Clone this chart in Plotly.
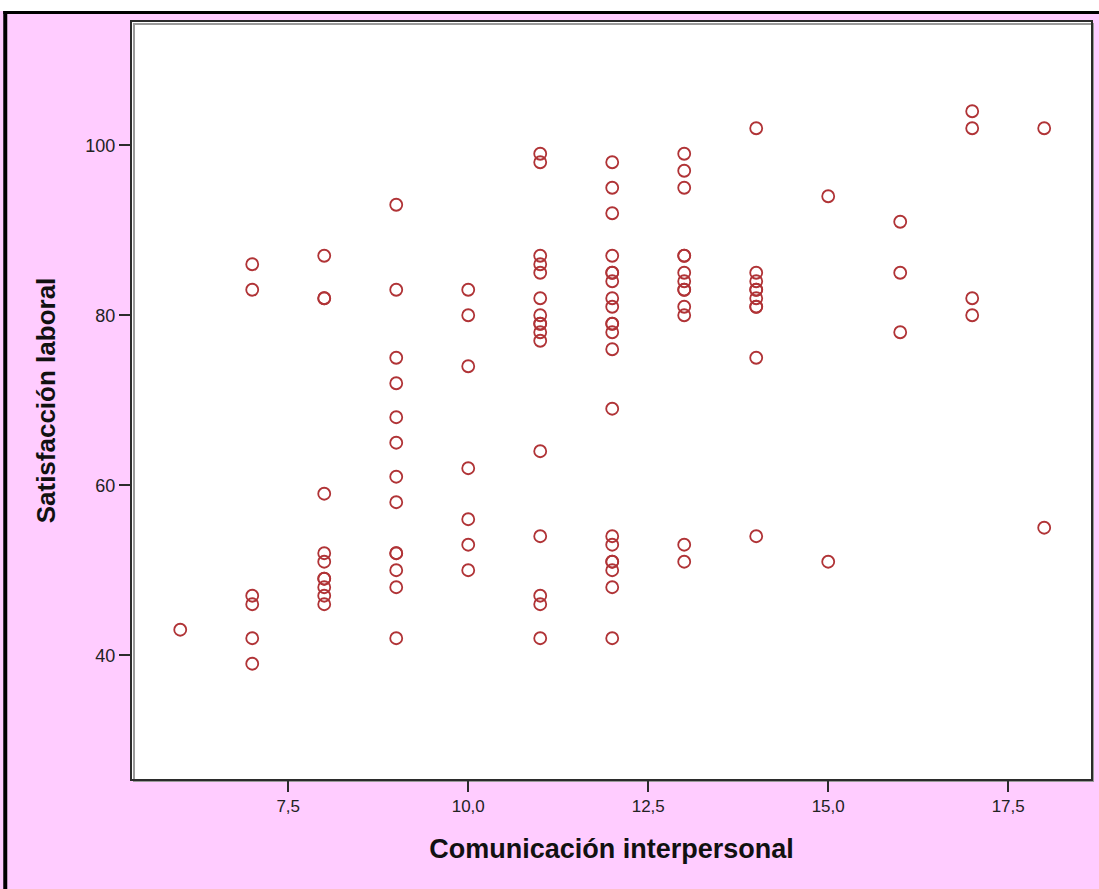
import plotly.graph_objects as go

# Satisfacción laboral scores observed at each level of Comunicación interpersonal
sat_c6 = [43]
sat_c7 = [86, 83, 47, 46, 42, 39]
sat_c8 = [87, 82, 82, 59, 52, 51, 49, 49, 48, 47, 46]
sat_c9 = [93, 83, 75, 72, 68, 65, 61, 58, 52, 52, 50, 48, 42]
sat_c10 = [83, 80, 74, 62, 56, 53, 50]
sat_c11 = [99, 98, 87, 86, 85, 82, 80, 79, 79, 78, 77, 64, 54, 47, 46, 42]
sat_c12 = [98, 95, 92, 87, 85, 85, 84, 82, 81, 79, 79, 78, 76, 69, 54, 53, 51, 51, 50, 48, 42]
sat_c13 = [99, 97, 95, 87, 87, 85, 84, 83, 83, 81, 80, 53, 51]
sat_c14 = [102, 85, 84, 83, 83, 82, 81, 81, 75, 54]
sat_c15 = [94, 51]
sat_c16 = [91, 85, 78]
sat_c17 = [104, 102, 82, 80]
sat_c18 = [102, 55]

comm_levels = [6, 7, 8, 9, 10, 11, 12, 13, 14, 15, 16, 17, 18]
sat_by_level = [sat_c6, sat_c7, sat_c8, sat_c9, sat_c10, sat_c11, sat_c12,
                sat_c13, sat_c14, sat_c15, sat_c16, sat_c17, sat_c18]

x_tickvals = [7.5, 10.0, 12.5, 15.0, 17.5]
x_ticktext = ["7,5", "10,0", "12,5", "15,0", "17,5"]
y_tickvals = [40, 60, 80, 100]

xs, ys = [], []
for level, values in zip(comm_levels, sat_by_level):
    xs.extend([level] * len(values))
    ys.extend(values)

PINK = "#FFCCFF"
MARK = "#B03336"
AXIS = "#2b2b2b"

fig = go.Figure()
fig.add_trace(go.Scatter(
    x=xs, y=ys, mode="markers",
    marker=dict(symbol="circle-open", size=12, color=MARK,
                line=dict(color=MARK, width=1.8)),
    showlegend=False, hoverinfo="x+y",
))

W, H = 1099, 889
ML, MR, MT, MB = 132, 6, 22, 110
PW, PH = W - ML - MR, H - MT - MB


def px_x(p):
    return (p - ML) / PW


def px_y(p):
    return (H - MB - p) / PH


shapes = [
    # white strip above the chart frame
    dict(type="rect", xref="paper", yref="paper", layer="above",
         x0=px_x(-2), x1=px_x(W + 2), y0=px_y(11), y1=px_y(-2),
         fillcolor="white", line=dict(width=0)),
    # outer black frame (top and left edges)
    dict(type="line", xref="paper", yref="paper", layer="above",
         x0=px_x(3), x1=px_x(W + 2), y0=px_y(12.5), y1=px_y(12.5),
         line=dict(color="black", width=3)),
    dict(type="line", xref="paper", yref="paper", layer="above",
         x0=px_x(5), x1=px_x(5), y0=px_y(11), y1=px_y(H + 2),
         line=dict(color="black", width=4)),
    # soft shadow along the plot box
    dict(type="rect", xref="paper", yref="paper", layer="below",
         x0=px_x(ML + 2), x1=px_x(W - MR + 2), y0=px_y(H - MB + 2), y1=px_y(MT + 2),
         fillcolor="rgba(0,0,0,0)", line=dict(color="#9a9a9a", width=2)),
]

fig.update_layout(
    width=W, height=H, autosize=False,
    margin=dict(l=ML, r=MR, t=MT, b=MB, pad=0),
    paper_bgcolor=PINK, plot_bgcolor="white",
    font=dict(family="Liberation Sans, Arial, sans-serif", color="#1a1a1a"),
    shapes=shapes,
    xaxis=dict(
        range=[5.33, 18.65], tickmode="array", tickvals=x_tickvals, ticktext=x_ticktext,
        showgrid=False, zeroline=False, showline=True, mirror=True,
        linecolor=AXIS, linewidth=2, ticks="outside", ticklen=11, tickwidth=2,
        tickcolor=AXIS, tickfont=dict(size=17, color="#222"),
        title=dict(text="<b>Comunicación interpersonal</b>",
                   font=dict(size=27, color="#111"), standoff=24),
    ),
    yaxis=dict(
        range=[25.44, 114.5], tickmode="array", tickvals=y_tickvals,
        showgrid=False, zeroline=False, showline=True, mirror=True,
        linecolor=AXIS, linewidth=2, ticks="outside", ticklen=11, tickwidth=2,
        tickcolor=AXIS, tickfont=dict(size=18, color="#222"),
        title=dict(text="<b>Satisfacción laboral</b>",
                   font=dict(size=26, color="#111"), standoff=22),
    ),
)

fig.write_html("out.html")
